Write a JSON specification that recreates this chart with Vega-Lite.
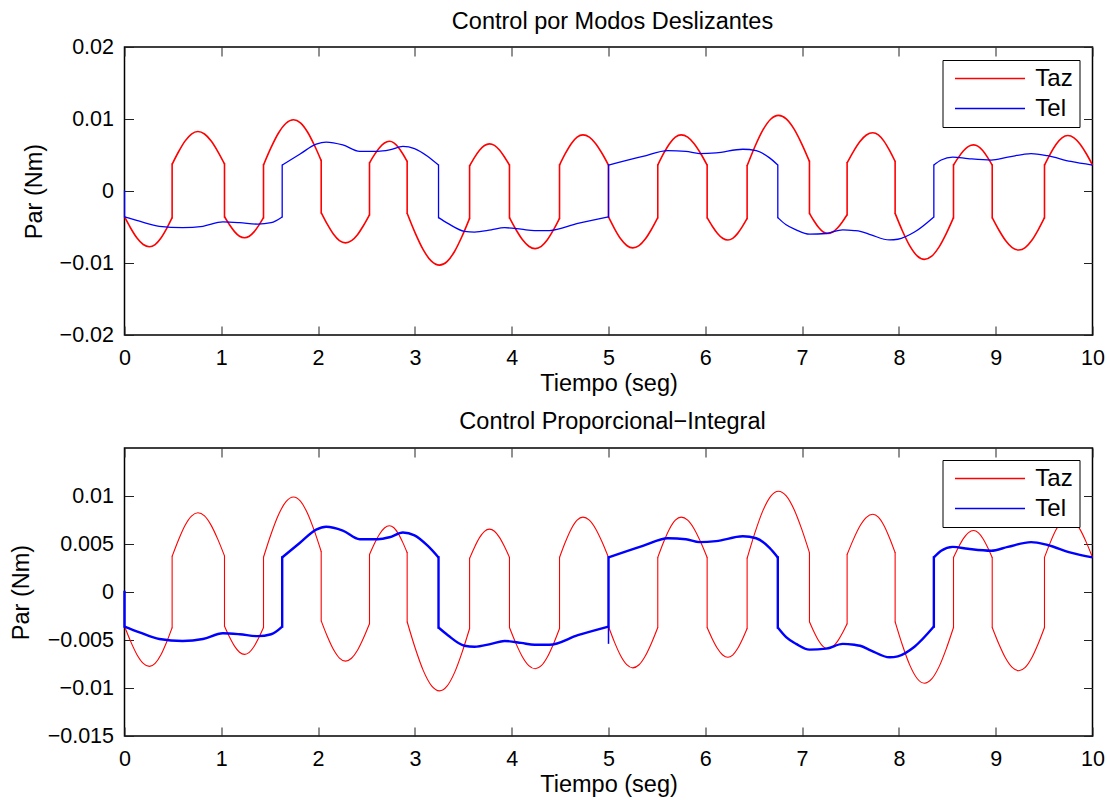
{
  "$schema": "https://vega.github.io/schema/vega-lite/v6.json",
  "background": "white",
  "padding": {"left": 7.5, "top": 8, "right": 5, "bottom": 2},
  "spacing": 113,
  "bounds": "flush",
  "config": {
    "font": "Liberation Sans",
    "view": {"stroke": "black", "strokeWidth": 1.5},
    "axis": {"grid": false, "domain": false, "tickColor": "#222222", "tickWidth": 1, "tickSize": -9, "labelFlush": false, "labelColor": "black", "labelFontSize": 21.5, "labelFont": "Liberation Sans", "titleColor": "black", "titleFontSize": 23.5, "titleFontWeight": "normal", "titleFont": "Liberation Sans"},
    "title": {"fontSize": 23.5, "fontWeight": "normal", "color": "black", "font": "Liberation Sans", "anchor": "middle", "frame": "group", "baseline": "alphabetic", "dx": 4},
    "legend": {"strokeColor": "black", "fillColor": "white", "padding": 6.5, "labelFontSize": 24, "labelColor": "black", "labelFont": "Liberation Sans", "symbolType": "M-5,0L5,0", "symbolSize": 196, "symbolStrokeWidth": 1.5, "symbolOffset": 29, "labelOffset": 33.3, "rowPadding": 6}
  },
  "resolve": {"scale": {"color": "independent"}, "legend": {"color": "independent"}},
  "datasets": {
    "d": [
      {"s":"Taz","g":1,"t":0,"v":-0.00357},{"s":"Taz","g":1,"t":0.0645,"v":-0.00517},{"s":"Taz","g":1,"t":0.129,"v":-0.00653},{"s":"Taz","g":1,"t":0.1935,"v":-0.00743},{"s":"Taz","g":1,"t":0.258,"v":-0.00775},{"s":"Taz","g":1,"t":0.3165,"v":-0.00744},{"s":"Taz","g":1,"t":0.375,"v":-0.00657},{"s":"Taz","g":1,"t":0.4335,"v":-0.00526},{"s":"Taz","g":1,"t":0.492,"v":-0.00371},
      {"s":"Taz","g":2,"t":0.492,"v":0.00371},{"s":"Taz","g":2,"t":0.5585,"v":0.00545},{"s":"Taz","g":2,"t":0.625,"v":0.00693},{"s":"Taz","g":2,"t":0.6915,"v":0.00791},{"s":"Taz","g":2,"t":0.758,"v":0.00826},{"s":"Taz","g":2,"t":0.8268,"v":0.00792},{"s":"Taz","g":2,"t":0.8955,"v":0.00694},{"s":"Taz","g":2,"t":0.9643,"v":0.00548},{"s":"Taz","g":2,"t":1.033,"v":0.00376},
      {"s":"Taz","g":3,"t":1.033,"v":-0.00357},{"s":"Taz","g":3,"t":1.0848,"v":-0.00469},{"s":"Taz","g":3,"t":1.1365,"v":-0.00564},{"s":"Taz","g":3,"t":1.1883,"v":-0.00628},{"s":"Taz","g":3,"t":1.24,"v":-0.0065},{"s":"Taz","g":3,"t":1.289,"v":-0.00629},{"s":"Taz","g":3,"t":1.338,"v":-0.00568},{"s":"Taz","g":3,"t":1.387,"v":-0.00477},{"s":"Taz","g":3,"t":1.436,"v":-0.0037},
      {"s":"Taz","g":4,"t":1.436,"v":0.00362},{"s":"Taz","g":4,"t":1.5135,"v":0.00602},{"s":"Taz","g":4,"t":1.591,"v":0.00805},{"s":"Taz","g":4,"t":1.6685,"v":0.00941},{"s":"Taz","g":4,"t":1.746,"v":0.00989},{"s":"Taz","g":4,"t":1.8175,"v":0.00946},{"s":"Taz","g":4,"t":1.889,"v":0.00823},{"s":"Taz","g":4,"t":1.9605,"v":0.00639},{"s":"Taz","g":4,"t":2.032,"v":0.00422},
      {"s":"Taz","g":5,"t":2.032,"v":-0.003},{"s":"Taz","g":5,"t":2.0948,"v":-0.00461},{"s":"Taz","g":5,"t":2.1575,"v":-0.00597},{"s":"Taz","g":5,"t":2.2203,"v":-0.00688},{"s":"Taz","g":5,"t":2.283,"v":-0.0072},{"s":"Taz","g":5,"t":2.345,"v":-0.0069},{"s":"Taz","g":5,"t":2.407,"v":-0.00606},{"s":"Taz","g":5,"t":2.469,"v":-0.00479},{"s":"Taz","g":5,"t":2.531,"v":-0.0033},
      {"s":"Taz","g":6,"t":2.531,"v":0.0039},{"s":"Taz","g":6,"t":2.5825,"v":0.00505},{"s":"Taz","g":6,"t":2.634,"v":0.00602},{"s":"Taz","g":6,"t":2.6855,"v":0.00667},{"s":"Taz","g":6,"t":2.737,"v":0.0069},{"s":"Taz","g":6,"t":2.7828,"v":0.00669},{"s":"Taz","g":6,"t":2.8285,"v":0.00608},{"s":"Taz","g":6,"t":2.8743,"v":0.00517},{"s":"Taz","g":6,"t":2.92,"v":0.0041},
      {"s":"Taz","g":7,"t":2.92,"v":-0.0031},{"s":"Taz","g":7,"t":3.0035,"v":-0.00586},{"s":"Taz","g":7,"t":3.087,"v":-0.00819},{"s":"Taz","g":7,"t":3.1705,"v":-0.00975},{"s":"Taz","g":7,"t":3.254,"v":-0.0103},{"s":"Taz","g":7,"t":3.3318,"v":-0.00981},{"s":"Taz","g":7,"t":3.4095,"v":-0.0084},{"s":"Taz","g":7,"t":3.4873,"v":-0.00629},{"s":"Taz","g":7,"t":3.565,"v":-0.0038},
      {"s":"Taz","g":8,"t":3.565,"v":0.0035},{"s":"Taz","g":8,"t":3.6163,"v":0.00467},{"s":"Taz","g":8,"t":3.6675,"v":0.00566},{"s":"Taz","g":8,"t":3.7188,"v":0.00632},{"s":"Taz","g":8,"t":3.77,"v":0.00655},{"s":"Taz","g":8,"t":3.8218,"v":0.00633},{"s":"Taz","g":8,"t":3.8735,"v":0.00569},{"s":"Taz","g":8,"t":3.9253,"v":0.00473},{"s":"Taz","g":8,"t":3.977,"v":0.0036},
      {"s":"Taz","g":9,"t":3.977,"v":-0.0037},{"s":"Taz","g":9,"t":4.0435,"v":-0.00535},{"s":"Taz","g":9,"t":4.11,"v":-0.00674},{"s":"Taz","g":9,"t":4.1765,"v":-0.00767},{"s":"Taz","g":9,"t":4.243,"v":-0.008},{"s":"Taz","g":9,"t":4.3058,"v":-0.00768},{"s":"Taz","g":9,"t":4.3685,"v":-0.00677},{"s":"Taz","g":9,"t":4.4313,"v":-0.00541},{"s":"Taz","g":9,"t":4.494,"v":-0.0038},
      {"s":"Taz","g":10,"t":4.494,"v":0.0036},{"s":"Taz","g":10,"t":4.5545,"v":0.00521},{"s":"Taz","g":10,"t":4.615,"v":0.00657},{"s":"Taz","g":10,"t":4.6755,"v":0.00748},{"s":"Taz","g":10,"t":4.736,"v":0.0078},{"s":"Taz","g":10,"t":4.802,"v":0.00748},{"s":"Taz","g":10,"t":4.868,"v":0.00657},{"s":"Taz","g":10,"t":4.934,"v":0.00521},{"s":"Taz","g":10,"t":5,"v":0.0036},
      {"s":"Taz","g":11,"t":5,"v":-0.0036},{"s":"Taz","g":11,"t":5.0628,"v":-0.00525},{"s":"Taz","g":11,"t":5.1255,"v":-0.00664},{"s":"Taz","g":11,"t":5.1883,"v":-0.00757},{"s":"Taz","g":11,"t":5.251,"v":-0.0079},{"s":"Taz","g":11,"t":5.3155,"v":-0.00758},{"s":"Taz","g":11,"t":5.38,"v":-0.00667},{"s":"Taz","g":11,"t":5.4445,"v":-0.00531},{"s":"Taz","g":11,"t":5.509,"v":-0.0037},
      {"s":"Taz","g":12,"t":5.509,"v":0.0036},{"s":"Taz","g":12,"t":5.5695,"v":0.00521},{"s":"Taz","g":12,"t":5.63,"v":0.00657},{"s":"Taz","g":12,"t":5.6905,"v":0.00748},{"s":"Taz","g":12,"t":5.751,"v":0.0078},{"s":"Taz","g":12,"t":5.818,"v":0.00748},{"s":"Taz","g":12,"t":5.885,"v":0.00657},{"s":"Taz","g":12,"t":5.952,"v":0.00521},{"s":"Taz","g":12,"t":6.019,"v":0.0036},
      {"s":"Taz","g":13,"t":6.019,"v":-0.0037},{"s":"Taz","g":13,"t":6.0725,"v":-0.00489},{"s":"Taz","g":13,"t":6.126,"v":-0.00589},{"s":"Taz","g":13,"t":6.1795,"v":-0.00656},{"s":"Taz","g":13,"t":6.233,"v":-0.0068},{"s":"Taz","g":13,"t":6.2828,"v":-0.00657},{"s":"Taz","g":13,"t":6.3325,"v":-0.00592},{"s":"Taz","g":13,"t":6.3823,"v":-0.00495},{"s":"Taz","g":13,"t":6.432,"v":-0.0038},
      {"s":"Taz","g":14,"t":6.432,"v":0.0035},{"s":"Taz","g":14,"t":6.513,"v":0.00618},{"s":"Taz","g":14,"t":6.594,"v":0.00845},{"s":"Taz","g":14,"t":6.675,"v":0.00997},{"s":"Taz","g":14,"t":6.756,"v":0.0105},{"s":"Taz","g":14,"t":6.836,"v":0.01001},{"s":"Taz","g":14,"t":6.916,"v":0.00862},{"s":"Taz","g":14,"t":6.996,"v":0.00655},{"s":"Taz","g":14,"t":7.076,"v":0.0041},
      {"s":"Taz","g":15,"t":7.076,"v":-0.0031},{"s":"Taz","g":15,"t":7.1235,"v":-0.00417},{"s":"Taz","g":15,"t":7.171,"v":-0.00508},{"s":"Taz","g":15,"t":7.2185,"v":-0.00569},{"s":"Taz","g":15,"t":7.266,"v":-0.0059},{"s":"Taz","g":15,"t":7.3158,"v":-0.0057},{"s":"Taz","g":15,"t":7.3655,"v":-0.00514},{"s":"Taz","g":15,"t":7.4153,"v":-0.0043},{"s":"Taz","g":15,"t":7.465,"v":-0.0033},
      {"s":"Taz","g":16,"t":7.465,"v":0.0039},{"s":"Taz","g":16,"t":7.5313,"v":0.00551},{"s":"Taz","g":16,"t":7.5975,"v":0.00687},{"s":"Taz","g":16,"t":7.6638,"v":0.00778},{"s":"Taz","g":16,"t":7.73,"v":0.0081},{"s":"Taz","g":16,"t":7.7878,"v":0.0078},{"s":"Taz","g":16,"t":7.8455,"v":0.00693},{"s":"Taz","g":16,"t":7.9033,"v":0.00563},{"s":"Taz","g":16,"t":7.961,"v":0.0041},
      {"s":"Taz","g":17,"t":7.961,"v":-0.0031},{"s":"Taz","g":17,"t":8.0368,"v":-0.00555},{"s":"Taz","g":17,"t":8.1125,"v":-0.00762},{"s":"Taz","g":17,"t":8.1883,"v":-0.00901},{"s":"Taz","g":17,"t":8.264,"v":-0.0095},{"s":"Taz","g":17,"t":8.339,"v":-0.00906},{"s":"Taz","g":17,"t":8.414,"v":-0.0078},{"s":"Taz","g":17,"t":8.489,"v":-0.00592},{"s":"Taz","g":17,"t":8.564,"v":-0.0037},
      {"s":"Taz","g":18,"t":8.564,"v":0.0036},{"s":"Taz","g":18,"t":8.6158,"v":0.00467},{"s":"Taz","g":18,"t":8.6675,"v":0.00558},{"s":"Taz","g":18,"t":8.7193,"v":0.00619},{"s":"Taz","g":18,"t":8.771,"v":0.0064},{"s":"Taz","g":18,"t":8.8193,"v":0.00619},{"s":"Taz","g":18,"t":8.8675,"v":0.00558},{"s":"Taz","g":18,"t":8.9158,"v":0.00467},{"s":"Taz","g":18,"t":8.964,"v":0.0036},
      {"s":"Taz","g":19,"t":8.964,"v":-0.0037},{"s":"Taz","g":19,"t":9.0328,"v":-0.00542},{"s":"Taz","g":19,"t":9.1015,"v":-0.00688},{"s":"Taz","g":19,"t":9.1703,"v":-0.00786},{"s":"Taz","g":19,"t":9.239,"v":-0.0082},{"s":"Taz","g":19,"t":9.3053,"v":-0.00786},{"s":"Taz","g":19,"t":9.3715,"v":-0.00688},{"s":"Taz","g":19,"t":9.4378,"v":-0.00542},{"s":"Taz","g":19,"t":9.504,"v":-0.0037},
      {"s":"Taz","g":20,"t":9.504,"v":0.0036},{"s":"Taz","g":20,"t":9.5643,"v":0.00517},{"s":"Taz","g":20,"t":9.6245,"v":0.0065},{"s":"Taz","g":20,"t":9.6848,"v":0.00739},{"s":"Taz","g":20,"t":9.745,"v":0.0077},{"s":"Taz","g":20,"t":9.8088,"v":0.00739},{"s":"Taz","g":20,"t":9.8725,"v":0.0065},{"s":"Taz","g":20,"t":9.9363,"v":0.00517},{"s":"Taz","g":20,"t":10,"v":0.0036},
      {"s":"Tel","g":1,"t":0,"v":-0.0036},{"s":"Tel","g":1,"t":0.155,"v":-0.0042},{"s":"Tel","g":1,"t":0.36,"v":-0.0049},{"s":"Tel","g":1,"t":0.6,"v":-0.0051},{"s":"Tel","g":1,"t":0.81,"v":-0.0049},{"s":"Tel","g":1,"t":1.016,"v":-0.0043},{"s":"Tel","g":1,"t":1.19,"v":-0.0044},{"s":"Tel","g":1,"t":1.377,"v":-0.0046},{"s":"Tel","g":1,"t":1.515,"v":-0.0044},{"s":"Tel","g":1,"t":1.629,"v":-0.0036},
      {"s":"Tel","g":2,"t":1.629,"v":0.0036},{"s":"Tel","g":2,"t":1.81,"v":0.0051},{"s":"Tel","g":2,"t":1.98,"v":0.0065},{"s":"Tel","g":2,"t":2.083,"v":0.0068},{"s":"Tel","g":2,"t":2.255,"v":0.0064},{"s":"Tel","g":2,"t":2.43,"v":0.0055},{"s":"Tel","g":2,"t":2.617,"v":0.0055},{"s":"Tel","g":2,"t":2.737,"v":0.0057},{"s":"Tel","g":2,"t":2.876,"v":0.0062},{"s":"Tel","g":2,"t":2.996,"v":0.0059},{"s":"Tel","g":2,"t":3.134,"v":0.0048},{"s":"Tel","g":2,"t":3.244,"v":0.0036},
      {"s":"Tel","g":3,"t":3.244,"v":-0.0037},{"s":"Tel","g":3,"t":3.34,"v":-0.0045},{"s":"Tel","g":3,"t":3.512,"v":-0.0056},{"s":"Tel","g":3,"t":3.616,"v":-0.0057},{"s":"Tel","g":3,"t":3.788,"v":-0.0054},{"s":"Tel","g":3,"t":3.926,"v":-0.0051},{"s":"Tel","g":3,"t":4.098,"v":-0.0053},{"s":"Tel","g":3,"t":4.236,"v":-0.0055},{"s":"Tel","g":3,"t":4.39,"v":-0.0055},{"s":"Tel","g":3,"t":4.683,"v":-0.0045},{"s":"Tel","g":3,"t":5,"v":-0.0036},
      {"s":"Tel","g":4,"t":5,"v":0.0036},{"s":"Tel","g":4,"t":5.355,"v":0.0048},{"s":"Tel","g":4,"t":5.613,"v":0.0056},{"s":"Tel","g":4,"t":5.8,"v":0.0055},{"s":"Tel","g":4,"t":5.94,"v":0.0052},{"s":"Tel","g":4,"t":6.112,"v":0.0053},{"s":"Tel","g":4,"t":6.388,"v":0.0058},{"s":"Tel","g":4,"t":6.526,"v":0.0056},{"s":"Tel","g":4,"t":6.664,"v":0.0046},{"s":"Tel","g":4,"t":6.749,"v":0.0036},
      {"s":"Tel","g":5,"t":6.749,"v":-0.0037},{"s":"Tel","g":5,"t":6.835,"v":-0.0047},{"s":"Tel","g":5,"t":6.938,"v":-0.0054},{"s":"Tel","g":5,"t":7.076,"v":-0.006},{"s":"Tel","g":5,"t":7.248,"v":-0.0059},{"s":"Tel","g":5,"t":7.42,"v":-0.0054},{"s":"Tel","g":5,"t":7.54,"v":-0.0055},{"s":"Tel","g":5,"t":7.6,"v":-0.0056},{"s":"Tel","g":5,"t":7.713,"v":-0.0061},{"s":"Tel","g":5,"t":7.903,"v":-0.0068},{"s":"Tel","g":5,"t":7.989,"v":-0.0067},{"s":"Tel","g":5,"t":8.161,"v":-0.0057},{"s":"Tel","g":5,"t":8.361,"v":-0.0036},
      {"s":"Tel","g":6,"t":8.361,"v":0.0036},{"s":"Tel","g":6,"t":8.437,"v":0.0043},{"s":"Tel","g":6,"t":8.557,"v":0.0047},{"s":"Tel","g":6,"t":8.713,"v":0.0045},{"s":"Tel","g":6,"t":8.953,"v":0.0043},{"s":"Tel","g":6,"t":9.125,"v":0.0047},{"s":"Tel","g":6,"t":9.366,"v":0.0052},{"s":"Tel","g":6,"t":9.535,"v":0.0049},{"s":"Tel","g":6,"t":9.776,"v":0.0041},{"s":"Tel","g":6,"t":10,"v":0.0036}
    ],
    "jumps": [
      {"s":"Taz","t":0.492,"v":-0.00371,"v2":0.00371},{"s":"Taz","t":1.033,"v":0.00376,"v2":-0.00357},{"s":"Taz","t":1.436,"v":-0.0037,"v2":0.00362},{"s":"Taz","t":2.032,"v":0.00422,"v2":-0.003},{"s":"Taz","t":2.531,"v":-0.0033,"v2":0.0039},{"s":"Taz","t":2.92,"v":0.0041,"v2":-0.0031},{"s":"Taz","t":3.565,"v":-0.0038,"v2":0.0035},{"s":"Taz","t":3.977,"v":0.0036,"v2":-0.0037},{"s":"Taz","t":4.494,"v":-0.0038,"v2":0.0036},{"s":"Taz","t":5,"v":0.0036,"v2":-0.0036},
      {"s":"Taz","t":5.509,"v":-0.0037,"v2":0.0036},{"s":"Taz","t":6.019,"v":0.0036,"v2":-0.0037},{"s":"Taz","t":6.432,"v":-0.0038,"v2":0.0035},{"s":"Taz","t":7.076,"v":0.0041,"v2":-0.0031},{"s":"Taz","t":7.465,"v":-0.0033,"v2":0.0039},{"s":"Taz","t":7.961,"v":0.0041,"v2":-0.0031},{"s":"Taz","t":8.564,"v":-0.0037,"v2":0.0036},{"s":"Taz","t":8.964,"v":0.0036,"v2":-0.0037},{"s":"Taz","t":9.504,"v":-0.0037,"v2":0.0036},
      {"s":"Tel","t":0,"v":0,"v2":-0.0036},{"s":"Tel","t":1.629,"v":-0.0036,"v2":0.0036},{"s":"Tel","t":3.244,"v":0.0036,"v2":-0.0037},{"s":"Tel","t":5,"v":-0.0036,"v2":0.0036},{"s":"Tel","t":6.749,"v":0.0036,"v2":-0.0037},{"s":"Tel","t":8.361,"v":-0.0036,"v2":0.0036}
    ],
    "spike": [
      {"s":"Tel","t":5,"v":-0.0054,"v2":-0.0036}
    ]
  },
  "vconcat": [
    {
      "title": {"text": "Control por Modos Deslizantes", "offset": 3},
      "width": 968,
      "height": 288,
      "resolve": {"axis": {"x": "independent", "y": "independent"}},
      "layer": [
        {
          "data": {"name": "d"},
          "transform": [{"filter": "datum.s === 'Taz'"}],
          "mark": {"type": "line", "strokeWidth": 1.6, "interpolate": "monotone"},
          "encoding": {
            "x": {"field": "t", "type": "quantitative", "scale": {"domain": [0, 10], "nice": false, "zero": false},
                  "axis": {"orient": "bottom", "values": [0,1,2,3,4,5,6,7,8,9,10], "format": "d", "title": "Tiempo (seg)", "labelPadding": 21.7, "titleY": 55, "titleBaseline": "alphabetic"}},
            "y": {"field": "v", "type": "quantitative", "scale": {"domain": [-0.02, 0.02], "nice": false, "zero": false},
                  "axis": {"orient": "left", "values": [-0.02,-0.01,0,0.01,0.02], "format": ".3~g", "title": "Par (Nm)", "labelPadding": 20, "titleX": -90.5, "titleY": 144, "titleAngle": -90, "titleAlign": "center", "titleBaseline": "middle"}},
            "color": {"field": "s", "type": "nominal", "scale": {"domain": ["Taz", "Tel"], "range": ["#ff0000", "#0000ff"]}, "legend": {"title": null, "orient": "none", "legendX": 818, "legendY": 13}},
            "detail": {"field": "g", "type": "nominal"},
            "order": {"value": null}
          }
        },
        {
          "data": {"name": "jumps"},
          "transform": [{"filter": "datum.s === 'Taz'"}],
          "mark": {"type": "rule", "strokeWidth": 1.6, "strokeCap": "square"},
          "encoding": {
            "x": {"field": "t", "type": "quantitative", "axis": null},
            "y": {"field": "v", "type": "quantitative", "axis": null},
            "y2": {"field": "v2"},
            "color": {"field": "s", "type": "nominal", "scale": {"domain": ["Taz", "Tel"], "range": ["#ff0000", "#0000ff"]}, "legend": {"title": null, "orient": "none", "legendX": 818, "legendY": 13}}
          }
        },
        {
          "data": {"name": "d"},
          "transform": [{"filter": "datum.s === 'Tel'"}],
          "mark": {"type": "line", "strokeWidth": 1.3, "interpolate": "monotone"},
          "encoding": {
            "x": {"field": "t", "type": "quantitative", "axis": null},
            "y": {"field": "v", "type": "quantitative", "axis": null},
            "color": {"field": "s", "type": "nominal", "scale": {"domain": ["Taz", "Tel"], "range": ["#ff0000", "#0000ff"]}, "legend": {"title": null, "orient": "none", "legendX": 818, "legendY": 13}},
            "detail": {"field": "g", "type": "nominal"},
            "order": {"value": null}
          }
        },
        {
          "data": {"name": "jumps"},
          "transform": [{"filter": "datum.s === 'Tel'"}],
          "mark": {"type": "rule", "strokeWidth": 1.3, "strokeCap": "square"},
          "encoding": {
            "x": {"field": "t", "type": "quantitative", "axis": null},
            "y": {"field": "v", "type": "quantitative", "axis": null},
            "y2": {"field": "v2"},
            "color": {"field": "s", "type": "nominal", "scale": {"domain": ["Taz", "Tel"], "range": ["#ff0000", "#0000ff"]}, "legend": {"title": null, "orient": "none", "legendX": 818, "legendY": 13}}
          }
        },
        {
          "data": {"name": "d"},
          "mark": {"type": "point", "opacity": 0},
          "encoding": {
            "x": {"field": "t", "type": "quantitative", "axis": {"orient": "top", "values": [0,1,2,3,4,5,6,7,8,9,10], "labels": false, "title": null}},
            "y": {"field": "v", "type": "quantitative", "axis": {"orient": "right", "values": [-0.02,-0.01,0,0.01,0.02], "labels": false, "title": null}}
          }
        }
      ]
    },
    {
      "title": {"text": "Control Proporcional−Integral", "offset": 14},
      "width": 968,
      "height": 288,
      "resolve": {"axis": {"x": "independent", "y": "independent"}},
      "layer": [
        {
          "data": {"name": "d"},
          "transform": [{"filter": "datum.s === 'Taz'"}],
          "mark": {"type": "line", "strokeWidth": 1.1, "interpolate": "monotone"},
          "encoding": {
            "x": {"field": "t", "type": "quantitative", "scale": {"domain": [0, 10], "nice": false, "zero": false},
                  "axis": {"orient": "bottom", "values": [0,1,2,3,4,5,6,7,8,9,10], "format": "d", "title": "Tiempo (seg)", "labelPadding": 21.7, "titleY": 55, "titleBaseline": "alphabetic"}},
            "y": {"field": "v", "type": "quantitative", "scale": {"domain": [-0.015, 0.015], "nice": false, "zero": false},
                  "axis": {"orient": "left", "values": [-0.015,-0.01,-0.005,0,0.005,0.01], "format": ".3~g", "title": "Par (Nm)", "labelPadding": 20, "titleX": -103.5, "titleY": 144, "titleAngle": -90, "titleAlign": "center", "titleBaseline": "middle"}},
            "color": {"field": "s", "type": "nominal", "scale": {"domain": ["Taz", "Tel"], "range": ["#ff0000", "#0000ff"]}, "legend": {"title": null, "orient": "none", "legendX": 818, "legendY": 12}},
            "detail": {"field": "g", "type": "nominal"},
            "order": {"value": null}
          }
        },
        {
          "data": {"name": "jumps"},
          "transform": [{"filter": "datum.s === 'Taz'"}],
          "mark": {"type": "rule", "strokeWidth": 1.1, "strokeCap": "square"},
          "encoding": {
            "x": {"field": "t", "type": "quantitative", "axis": null},
            "y": {"field": "v", "type": "quantitative", "axis": null},
            "y2": {"field": "v2"},
            "color": {"field": "s", "type": "nominal", "scale": {"domain": ["Taz", "Tel"], "range": ["#ff0000", "#0000ff"]}, "legend": {"title": null, "orient": "none", "legendX": 818, "legendY": 12}}
          }
        },
        {
          "data": {"name": "d"},
          "transform": [{"filter": "datum.s === 'Tel'"}],
          "mark": {"type": "line", "strokeWidth": 2.4, "interpolate": "monotone"},
          "encoding": {
            "x": {"field": "t", "type": "quantitative", "axis": null},
            "y": {"field": "v", "type": "quantitative", "axis": null},
            "color": {"field": "s", "type": "nominal", "scale": {"domain": ["Taz", "Tel"], "range": ["#ff0000", "#0000ff"]}, "legend": {"title": null, "orient": "none", "legendX": 818, "legendY": 12}},
            "detail": {"field": "g", "type": "nominal"},
            "order": {"value": null}
          }
        },
        {
          "data": {"name": "jumps"},
          "transform": [{"filter": "datum.s === 'Tel'"}],
          "mark": {"type": "rule", "strokeWidth": 2.4, "strokeCap": "square"},
          "encoding": {
            "x": {"field": "t", "type": "quantitative", "axis": null},
            "y": {"field": "v", "type": "quantitative", "axis": null},
            "y2": {"field": "v2"},
            "color": {"field": "s", "type": "nominal", "scale": {"domain": ["Taz", "Tel"], "range": ["#ff0000", "#0000ff"]}, "legend": {"title": null, "orient": "none", "legendX": 818, "legendY": 12}}
          }
        },
        {
          "data": {"name": "spike"},
          "mark": {"type": "rule", "strokeWidth": 1.5},
          "encoding": {
            "x": {"field": "t", "type": "quantitative", "axis": null},
            "y": {"field": "v", "type": "quantitative", "axis": null},
            "y2": {"field": "v2"},
            "color": {"field": "s", "type": "nominal", "scale": {"domain": ["Taz", "Tel"], "range": ["#ff0000", "#0000ff"]}, "legend": {"title": null, "orient": "none", "legendX": 818, "legendY": 12}}
          }
        },
        {
          "data": {"name": "d"},
          "mark": {"type": "point", "opacity": 0},
          "encoding": {
            "x": {"field": "t", "type": "quantitative", "axis": {"orient": "top", "values": [0,1,2,3,4,5,6,7,8,9,10], "labels": false, "title": null}},
            "y": {"field": "v", "type": "quantitative", "axis": {"orient": "right", "values": [-0.015,-0.01,-0.005,0,0.005,0.01], "labels": false, "title": null}}
          }
        }
      ]
    }
  ]
}
